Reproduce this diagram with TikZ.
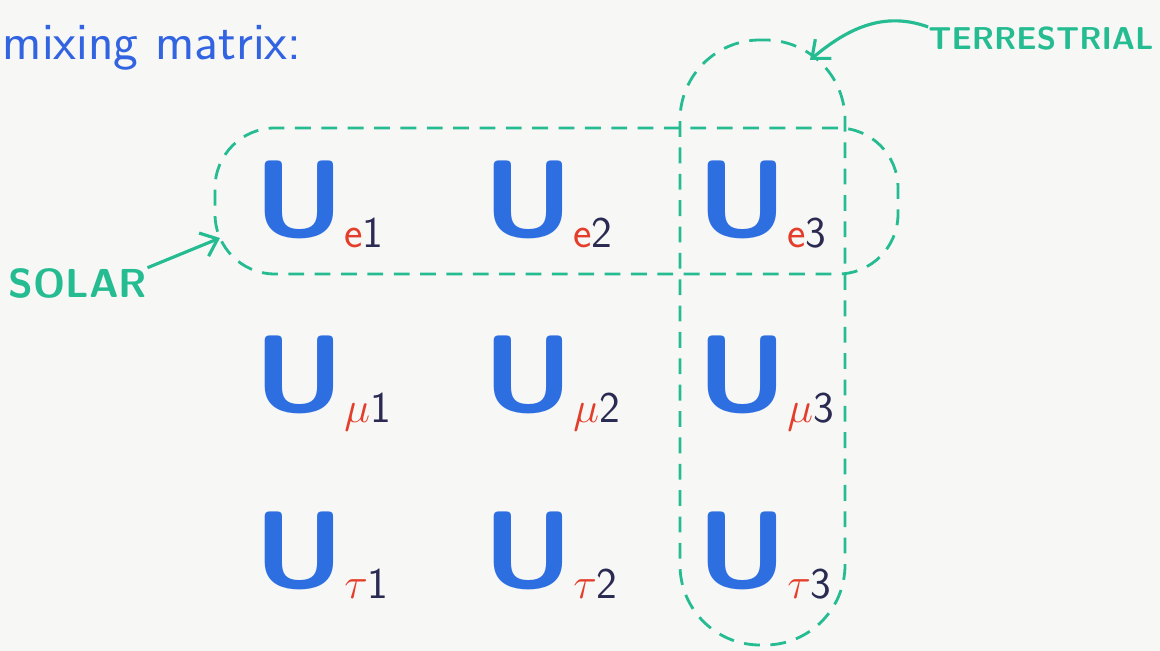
\documentclass[tikz,border=0pt]{standalone}
\usepackage{xcolor}
\usepackage{tikz}
\usetikzlibrary{arrows.meta,positioning}
\definecolor{ublue}{RGB}{45,110,225}
\definecolor{subred}{RGB}{228,62,42}
\definecolor{idx}{RGB}{42,42,82}
\definecolor{grn}{RGB}{38,188,146}
\definecolor{txtblue}{RGB}{50,100,225}
\definecolor{paper}{RGB}{247,247,246}
\newcommand{\uent}[2]{{\color{ublue}\bfseries\scalebox{1.08}[1]{U}}\raisebox{-6pt}{\fontsize{25}{27}\selectfont\color{subred}#1\color{idx}#2}}
\tikzset{
  entry/.style={inner sep=0pt, anchor=base west,
                font=\fontsize{62}{64}\selectfont\sffamily},
  grp/.style={draw=grn, line width=1.6pt, dash pattern=on 9pt off 6pt,
              inner sep=0pt},
  lbl/.style={text=grn, inner sep=0pt},
  pointer/.style={draw=grn, line width=1.8pt,
                  -{Straight Barb[length=3mm,width=5mm]}},
}
\begin{document}
\begin{tikzpicture}
  \fill[paper] (0,0) rectangle (23.2,13.02);
  \useasboundingbox (0,0) rectangle (23.2,13.02);
  \node[text=txtblue, font=\fontsize{30}{32}\selectfont\sffamily, anchor=base west,
        inner sep=0pt] (title) at (0.05,11.82) {mixing matrix:};
  \node[grp, rounded corners=1.2cm, minimum width=13.66cm,
        minimum height=2.92cm] (solarbox) at (11.13,9.0) {};
  \node[grp, rounded corners=1.6cm, minimum width=3.3cm,
        minimum height=12.1cm] (terrbox) at (15.25,6.17) {};
  \node[entry] (ue1) at (5.08,8.28) {\uent{e}{1}};
  \node[entry] (ue2) at (9.66,8.28) {\uent{e}{2}};
  \node[entry] (ue3) at (13.94,8.28) {\uent{e}{3}};
  \node[entry] (um1) at (5.08,4.78) {\uent{$\mu$}{1}};
  \node[entry] (um2) at (9.66,4.78) {\uent{$\mu$}{2}};
  \node[entry] (um3) at (13.94,4.78) {\uent{$\mu$}{3}};
  \node[entry] (ut1) at (5.08,1.26) {\uent{$\tau$}{1}};
  \node[entry] (ut2) at (9.66,1.26) {\uent{$\tau$}{2}};
  \node[entry] (ut3) at (13.94,1.26) {\uent{$\tau$}{3}};
  \node[lbl, font=\fontsize{23}{25}\selectfont\sffamily\bfseries] (solar) at (1.56,7.36) {SOLAR};
  \node[lbl, font=\fontsize{18}{20}\selectfont\sffamily\bfseries] (terr) at (20.82,12.24) {TERRESTRIAL};
  \coordinate (solartip) at (4.4,8.26);
  \coordinate (terrtip) at (16.2,11.82);
  \draw[pointer] (solar.north east) -- (solartip);
  \draw[pointer] (terr.north west) to[out=160,in=40] (terrtip);
\end{tikzpicture}
\end{document}
